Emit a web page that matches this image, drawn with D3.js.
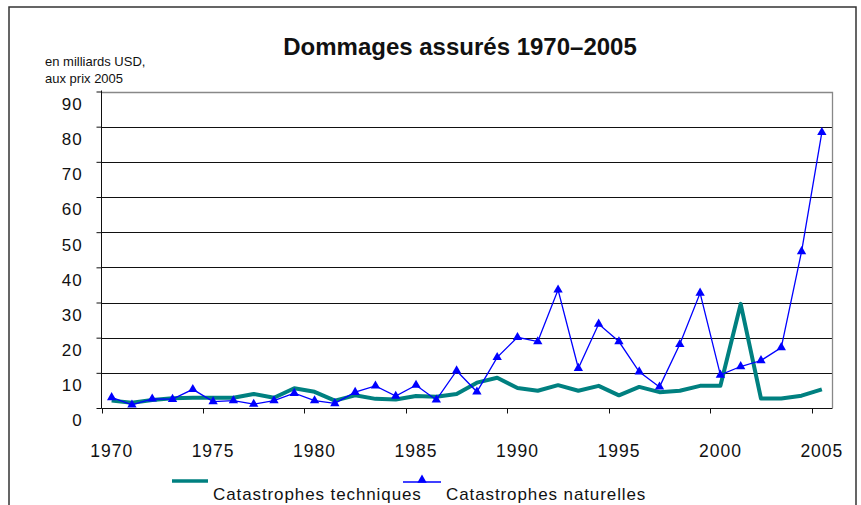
<!DOCTYPE html>
<meta charset="utf-8">
<script src="https://d3js.org/d3.v7.min.js"></script>
<style>
body{margin:0;background:#fff;}
text{fill:#111;}
</style>
<body>
<script>
// categories (years) and the two series, in milliards USD
var years=[1970,1971,1972,1973,1974,1975,1976,1977,1978,1979,
           1980,1981,1982,1983,1984,1985,1986,1987,1988,1989,
           1990,1991,1992,1993,1994,1995,1996,1997,1998,1999,
           2000,2001,2002,2003,2004,2005];
var techniques=[2.1,1.5,2.3,2.8,2.9,2.9,2.9,4.0,2.9,5.6,
                4.6,2.1,3.6,2.6,2.4,3.4,3.2,4.0,7.2,8.6,
                5.7,4.9,6.5,4.9,6.3,3.6,6.0,4.5,4.9,6.3,
                6.3,29.6,2.7,2.7,3.5,5.3];
var naturelles=[3.0,0.9,2.6,2.5,5.3,1.8,2.1,1.1,2.1,4.2,
                2.1,1.3,4.5,6.3,3.4,6.5,2.3,10.6,4.6,14.4,
                20.1,18.9,33.6,11.3,23.9,18.9,10.3,6.0,18.1,32.7,
                9.4,11.8,13.5,17.2,44.5,78.4];
var yTicks=[0,10,20,30,40,50,60,70,80,90];
var xTicks=[1970,1975,1980,1985,1990,1995,2000,2005];
var seriesNames=["Catastrophes techniques","Catastrophes naturelles"];

var svg=d3.select("body").append("svg")
    .attr("width",861)
    .attr("height",505);

var font="Liberation Sans, Arial, Helvetica";
var x=d3.scaleBand().domain(years).range([101.5,832]).padding(0);
var y=d3.scaleLinear().domain([0,90]).range([408,91.5]);
var cx=function(yr){return x(yr)+x.bandwidth()/2;};

// outer frame (no bottom edge, it is cut off)
svg.append("path")
    .attr("d","M9,505V7H856V505")
    .attr("fill","none")
    .attr("stroke","#333")
    .attr("stroke-width",1.5);

// title + unit
svg.append("text")
    .attr("x",460).attr("y",55)
    .attr("text-anchor","middle")
    .style("font-family",font)
    .style("font-weight","bold")
    .style("font-size","24px")
    .text("Dommages assurés 1970–2005");
svg.append("text").attr("x",45).attr("y",66)
    .style("font-family",font).style("font-size","13px")
    .text("en milliards USD,");
svg.append("text").attr("x",45).attr("y",83)
    .style("font-family",font).style("font-size","13px")
    .text("aux prix 2005");

// grid lines
svg.append("g").selectAll("line")
    .data(yTicks.slice(1,-1))
    .enter().append("line")
    .attr("x1",101.5).attr("x2",832)
    .attr("y1",function(d){return Math.round(y(d))+0.5;})
    .attr("y2",function(d){return Math.round(y(d))+0.5;})
    .attr("stroke","#111").attr("stroke-width",1);

// plot frame top/right
svg.append("path")
    .attr("d","M101.5,"+(Math.round(y(90))+0.5)+"H832.5V408")
    .attr("fill","none").attr("stroke","#888").attr("stroke-width",1.3);

// y axis
var gy=svg.append("g")
    .attr("transform","translate(101.5,0)")
    .call(d3.axisLeft(y).tickValues(yTicks).tickSize(5).tickPadding(14));
gy.selectAll("path,line").attr("stroke","#111");
gy.select(".domain").attr("d","M0,90.5V408.5");
gy.selectAll("text")
    .attr("transform","translate(0,12.5)")
    .style("font-family",font).style("font-size","17px")
    .style("letter-spacing","0.9px").attr("fill","#111");

// x axis: labels centred on category, ticks on category edge
var gx=svg.append("g")
    .attr("transform","translate(0,408.5)")
    .call(d3.axisBottom(x).tickValues(xTicks).tickSize(0).tickPadding(36));
gx.select(".domain").attr("stroke","#111").attr("d","M101.5,0H832.5");
gx.selectAll("text")
    .style("font-family",font).style("font-size","17.5px")
    .style("letter-spacing","1px").attr("fill","#111");
gx.selectAll(".tickmark")
    .data(xTicks).enter().append("line")
    .attr("x1",function(d){return Math.round(x(d))+0.5;})
    .attr("x2",function(d){return Math.round(x(d))+0.5;})
    .attr("y1",0).attr("y2",5)
    .attr("stroke","#111");

// lines
var line=d3.line()
    .x(function(d,i){return cx(years[i]);})
    .y(function(d){return y(d);});

svg.append("path")
    .datum(techniques)
    .attr("d",line)
    .attr("fill","none")
    .attr("stroke","#008080")
    .attr("stroke-width",4)
    .attr("stroke-linejoin","round");

svg.append("path")
    .datum(naturelles)
    .attr("d",line)
    .attr("fill","none")
    .attr("stroke","#0000ff")
    .attr("stroke-width",1.3);

var tri=d3.symbol().type(d3.symbolTriangle).size(38);
svg.append("g").selectAll("path")
    .data(naturelles)
    .enter().append("path")
    .attr("d",tri)
    .attr("transform",function(d,i){return "translate("+cx(years[i])+","+y(d)+")";})
    .attr("fill","#0000ff");

// legend
var lg=svg.append("g").style("font-family",font).style("font-size","17px")
    .style("letter-spacing","0.9px");
lg.append("line").attr("x1",172).attr("x2",208).attr("y1",481).attr("y2",481)
    .attr("stroke","#008080").attr("stroke-width",3.5);
lg.append("text").attr("x",213).attr("y",500).text(seriesNames[0]);
lg.append("line").attr("x1",403).attr("x2",441).attr("y1",482).attr("y2",482)
    .attr("stroke","#0000ff").attr("stroke-width",1.3);
lg.append("path").attr("d",tri).attr("transform","translate(422,480)").attr("fill","#0000ff");
lg.append("text").attr("x",446).attr("y",500).text(seriesNames[1]);
</script>
</body>
</html>
